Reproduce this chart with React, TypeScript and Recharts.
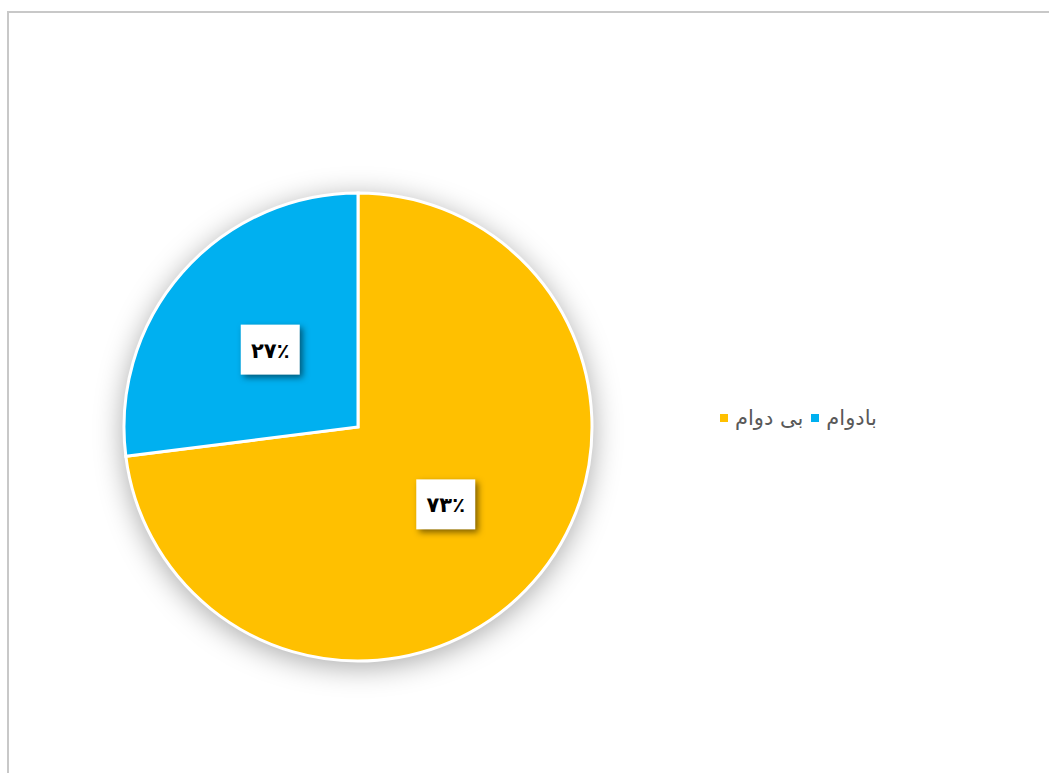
import { PieChart, Pie, Cell, Legend } from 'recharts'

// series (slice order starts at 12 o'clock, clockwise)
const categories = ['بی دوام', 'بادوام']
const values = [73, 27]
const valueLabels = ['۷۳٪', '۲۷٪']
const colors = ['#FFC000', '#00B0F0']

const data = categories.map((name, i) => ({ name, value: values[i], label: valueLabels[i] }))

const RADIAN = Math.PI / 180

function renderLabel(props: any) {
  const { cx, cy, midAngle, outerRadius, index } = props
  const r = outerRadius * 0.5
  const x = cx + r * Math.cos(-midAngle * RADIAN)
  const y = cy + r * Math.sin(-midAngle * RADIAN)
  const w = 59
  const h = 50
  return (
    <g key={'lbl-' + index}>
      <rect
        x={x - w / 2}
        y={y - h / 2}
        width={w}
        height={h}
        fill="#ffffff"
        style={{ filter: 'drop-shadow(3px 3px 3px rgba(0,0,0,0.5))' }}
      />
      <text
        x={x}
        y={y + 1}
        textAnchor="middle"
        dominantBaseline="central"
        fontFamily="DejaVu Sans"
        fontWeight="bold"
        fontSize={21}
        fill="#000"
      >
        {data[index].label}
      </text>
    </g>
  )
}

function renderLegend() {
  return (
    <div style={{ display: 'flex', alignItems: 'center', fontFamily: 'DejaVu Sans', fontSize: 21, color: '#595959' }}>
      {data.map((d, i) => (
        <div key={d.name} style={{ display: 'flex', alignItems: 'center', marginRight: 8 }}>
          <span style={{ width: 8, height: 8, background: colors[i], display: 'inline-block', marginRight: 7 }} />
          <span dir="rtl">{d.name}</span>
        </div>
      ))}
    </div>
  )
}

export default function App() {
  return (
    <div
      style={{
        position: 'absolute',
        left: 7,
        top: 11,
        width: 1100,
        height: 800,
        border: '2px solid #c8c8c8',
        background: '#fff',
      }}
    >
      <style>{`.recharts-pie { filter: drop-shadow(0px 5px 14px rgba(0,0,0,0.33)); }`}</style>
      <PieChart width={1040} height={760}>
        <Pie
          data={data}
          dataKey="value"
          nameKey="name"
          cx={344}
          cy={409}
          outerRadius={234}
          startAngle={90}
          endAngle={-270}
          stroke="#ffffff"
          strokeWidth={3}
          label={renderLabel}
          labelLine={false}
          isAnimationActive={false}
        >
          {data.map((d, i) => (
            <Cell key={d.name} fill={colors[i]} />
          ))}
        </Pie>
        <Legend
          content={renderLegend}
          wrapperStyle={{ position: 'absolute', left: 711, top: 393, width: 'auto' }}
        />
      </PieChart>
    </div>
  )
}
